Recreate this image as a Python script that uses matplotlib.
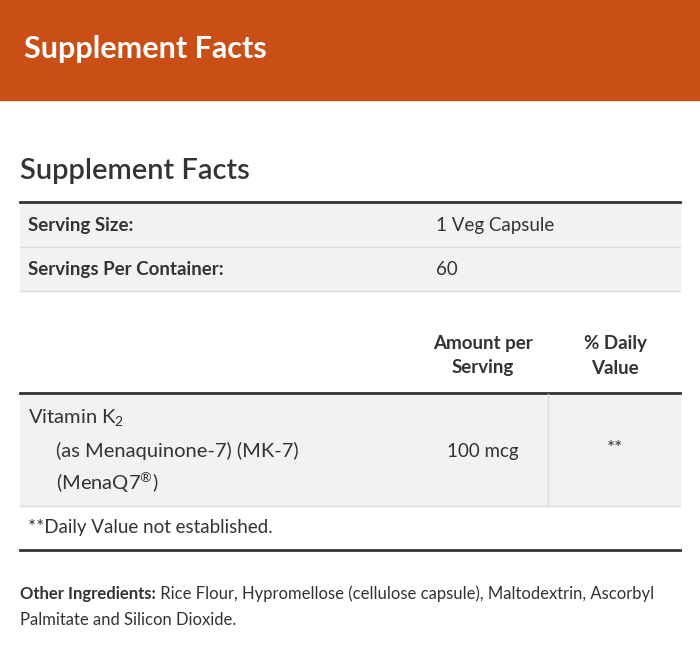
import matplotlib
matplotlib.use("Agg")
import matplotlib.pyplot as plt
from matplotlib.patches import Rectangle

plt.rcParams['font.family'] = ['Lato', 'DejaVu Sans']
plt.rcParams['mathtext.fontset'] = 'custom'
plt.rcParams['mathtext.rm'] = 'Lato'
plt.rcParams['mathtext.it'] = 'Lato'

title = "Supplement Facts"
serving_labels = ["Serving Size:", "Servings Per Container:"]
serving_values = ["1 Veg Capsule", "60"]
col_headers = ["Amount per\nServing", "% Daily\nValue"]
nutrient_lines = ["Vitamin K$_2$", "(as Menaquinone-7) (MK-7)", "(MenaQ7$^{®}$)"]
nutrient_amount = "100 mcg"
nutrient_dv = "**"
footnote = "**Daily Value not established."
other_label = "Other Ingredients:"
other_text = [" Rice Flour, Hypromellose (cellulose capsule), Maltodextrin, Ascorbyl",
              "Palmitate and Silicon Dioxide."]

fig = plt.figure(figsize=(7, 6.46), dpi=100)
ax = fig.add_axes([0, 0, 1, 1])
ax.set_xlim(0, 700); ax.set_ylim(646, 0); ax.axis('off')
dark = '#333333'
ax.add_patch(Rectangle((0, 0), 700, 100, color='#C94F17'))
ax.text(24, 49, title, color='white', fontsize=22, fontweight='bold', va='center')
ax.text(20, 171, title, color=dark, fontsize=21, fontweight='semibold', va='center')

for i, (l, v) in enumerate(zip(serving_labels, serving_values)):
    y0 = 202 + i * 44.5
    ax.add_patch(Rectangle((20, y0), 660, 44.5, color='#F2F2F2'))
    ax.text(28, y0 + 23, l, fontsize=13.5, fontweight='bold', color=dark, va='center')
    ax.text(436, y0 + 23, v, fontsize=13.5, color=dark, va='center')
ax.plot([20, 680], [202, 202], color=dark, lw=2)
for y in [247, 291]:
    ax.plot([20, 680], [y, y], color='#DDDDDD', lw=1)

for x, h in zip([483, 615], col_headers):
    ax.text(x, 356, h, fontsize=13.5, fontweight='bold', color=dark, ha='center', va='center', linespacing=1.5)
ax.add_patch(Rectangle((20, 394), 660, 112, color='#F2F2F2'))
ax.plot([20, 680], [393, 393], color=dark, lw=2)
ax.plot([548, 548], [394, 506], color='#DDDDDD', lw=1)
for x, y, s in zip([28, 56, 56], [418, 451, 483], nutrient_lines):
    ax.text(x, y, s, fontsize=14.5, color=dark, va='center')
ax.text(483, 451, nutrient_amount, fontsize=13.5, color=dark, ha='center', va='center')
ax.text(615, 449, nutrient_dv, fontsize=13.5, color=dark, ha='center', va='center')
ax.plot([20, 680], [506, 506], color='#DDDDDD', lw=1)
ax.text(28, 528, footnote, fontsize=13.5, color=dark, va='center')
ax.plot([20, 680], [550, 550], color=dark, lw=2)

r = fig.canvas.get_renderer()
t = ax.text(20, 594, other_label, fontsize=12, fontweight='bold', color=dark, va='center')
bb = t.get_window_extent(r)
x1 = ax.transData.inverted().transform((bb.x1, bb.y0))[0]
ax.text(x1, 594, other_text[0], fontsize=12, color=dark, va='center')
ax.text(20, 620, other_text[1], fontsize=12, color=dark, va='center')

fig.savefig('out.png', dpi=100)
